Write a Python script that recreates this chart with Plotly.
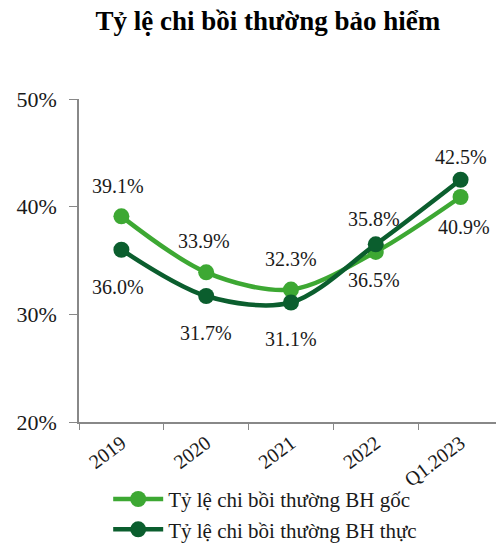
import plotly.graph_objects as go

categories = ["2019", "2020", "2021", "2022", "Q1.2023"]
goc_values = [39.1, 33.9, 32.3, 35.8, 40.9]
thuc_values = [36.0, 31.7, 31.1, 36.5, 42.5]
y_ticks = [20, 30, 40, 50]
y_tick_labels = ["20%", "30%", "40%", "50%"]

LIGHT = "#3da833"
DARK = "#0b5e2e"
FONT = "Liberation Serif, Times New Roman, serif"

fig = go.Figure()
fig.add_trace(go.Scatter(
    x=categories, y=goc_values, name="Tỷ lệ chi bồi thường BH gốc",
    mode="lines+markers", line=dict(color=LIGHT, width=4.5, shape="spline", smoothing=0.9),
    marker=dict(color=LIGHT, size=16)))
fig.add_trace(go.Scatter(
    x=categories, y=thuc_values, name="Tỷ lệ chi bồi thường BH thực",
    mode="lines+markers", line=dict(color=DARK, width=4.5, shape="spline", smoothing=0.9),
    marker=dict(color=DARK, size=16)))

goc_shift = [30, 31, 31, 33, -30]
thuc_shift = [-37, -37, -37, -36, 23]
goc_xshift = [-3, -2, 0, -2, 3]
thuc_xshift = [-3, 0, 0, -2, 0]
annotations = []
for i, (v, ys, xs) in enumerate(zip(goc_values, goc_shift, goc_xshift)):
    annotations.append(dict(x=i, y=v, xref="x", yref="y", text=f"{v:.1f}%", showarrow=False,
                            yshift=ys, xshift=xs,
                            font=dict(family=FONT, size=20, color="#1a1a1a")))
for i, (v, ys, xs) in enumerate(zip(thuc_values, thuc_shift, thuc_xshift)):
    annotations.append(dict(x=i, y=v, xref="x", yref="y", text=f"{v:.1f}%", showarrow=False,
                            yshift=ys, xshift=xs,
                            font=dict(family=FONT, size=20, color="#1a1a1a")))

fig.update_layout(
    width=496, height=545,
    margin=dict(l=79, r=0, t=99, b=123, autoexpand=False),
    paper_bgcolor="white", plot_bgcolor="white",
    title=dict(text="<b>Tỷ lệ chi bồi thường bảo hiểm</b>", x=0.54, xanchor="center",
               y=0.962, yanchor="middle", font=dict(family=FONT, size=27, color="black")),
    font=dict(family=FONT, color="#1a1a1a"),
    annotations=annotations,
    showlegend=True,
    legend=dict(orientation="v", x=0.07, xanchor="left", y=-0.176, yanchor="top",
                font=dict(family=FONT, size=21, color="#1a1a1a"),
                tracegroupgap=0, itemwidth=50, bgcolor="rgba(0,0,0,0)"),
    xaxis=dict(type="category", range=[-0.5, 4.418], tickson="boundaries",
               ticks="outside", ticklen=6, tickcolor="#888888", showline=True,
               linecolor="#888888", linewidth=1.5, showgrid=False, tickangle=-37,
               automargin=False,
               tickfont=dict(family=FONT, size=20, color="#1a1a1a")),
    yaxis=dict(range=[20, 50], tickvals=y_ticks, ticktext=y_tick_labels,
               ticks="outside", ticklen=8, tickcolor="#888888", showline=True,
               linecolor="#888888", linewidth=1.5, showgrid=False, zeroline=False,
               automargin=False, ticklabelstandoff=8,
               tickfont=dict(family=FONT, size=22, color="#1a1a1a")),
)
fig.write_html("out.html")
